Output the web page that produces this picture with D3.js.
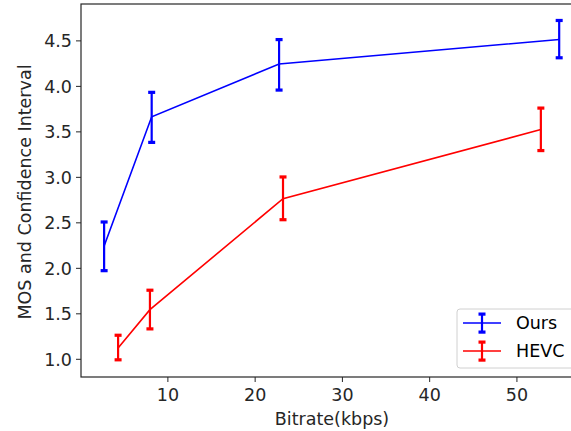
<!DOCTYPE html>
<html><head><meta charset="utf-8">
<script src="https://cdn.jsdelivr.net/npm/d3@7"></script>
<style>body{margin:0;background:#fff}svg{display:block}text{font-family:"DejaVu Sans",sans-serif}</style>
</head><body>
<svg id="c" width="571" height="431"></svg>
<script>
const oursX = [2.75, 8.2, 22.8, 54.9];
const oursMean = [2.24, 3.66, 4.24, 4.51];
const oursLow = [1.97, 3.38, 3.955, 4.31];
const oursHigh = [2.505, 3.93, 4.51, 4.72];
const hevcX = [4.35, 8.0, 23.25, 52.8];
const hevcMean = [1.12, 1.54, 2.76, 3.52];
const hevcLow = [0.99, 1.33, 2.53, 3.29];
const hevcHigh = [1.26, 1.755, 3.0, 3.757];
const xTicks = [10, 20, 30, 40, 50];
const yTicks = [1.0, 1.5, 2.0, 2.5, 3.0, 3.5, 4.0, 4.5];
const seriesNames = ["Ours", "HEVC"];
const seriesColors = ["#0000ff", "#ff0000"];

const svg = d3.select("#c");
const L = 81, R = 581, T = 4, B = 377;
const x = d3.scaleLinear().domain([0.1, 57.4]).range([L, R]);
const y = d3.scaleLinear().domain([0.8, 4.9]).range([B, T]);

const axisColor = "#262626";
const fs = "17.5px";

// frame
svg.append("rect").attr("x", L).attr("y", T).attr("width", R - L).attr("height", B - T)
  .attr("fill", "none").attr("stroke", axisColor).attr("stroke-width", 1.2);

// x axis
const gx = svg.append("g").attr("transform", `translate(0,${B})`)
  .call(d3.axisBottom(x).tickValues(xTicks).tickSize(5).tickFormat(d3.format("d")));
gx.select(".domain").remove();
gx.selectAll("line").attr("stroke", axisColor).attr("stroke-width", 1);
gx.selectAll("text").attr("fill", axisColor).style("font-size", fs).attr("y", 24).attr("dy", "0");

// y axis
const gy = svg.append("g").attr("transform", `translate(${L},0)`)
  .call(d3.axisLeft(y).tickValues(yTicks).tickSize(5).tickPadding(4).tickFormat(d3.format(".1f")));
gy.select(".domain").remove();
gy.selectAll("line").attr("stroke", axisColor).attr("stroke-width", 1);
gy.selectAll("text").attr("fill", axisColor).style("font-size", fs).attr("dy", "0.36em");

// labels
svg.append("text").attr("x", 332).attr("y", 425).attr("text-anchor", "middle")
  .attr("fill", axisColor).style("font-size", fs).text("Bitrate(kbps)");
svg.append("text").attr("transform", "translate(31,192) rotate(-90)").attr("text-anchor", "middle")
  .attr("fill", axisColor).style("font-size", fs).text("MOS and Confidence Interval");

const series = [
  {xs: oursX, m: oursMean, lo: oursLow, hi: oursHigh, c: seriesColors[0]},
  {xs: hevcX, m: hevcMean, lo: hevcLow, hi: hevcHigh, c: seriesColors[1]}
];
const line = d3.line().x(d => x(d[0])).y(d => y(d[1]));
const plot = svg.append("g");
series.forEach(s => {
  const pts = s.xs.map((v, i) => [v, s.m[i]]);
  plot.append("path").attr("d", line(pts)).attr("fill", "none").attr("stroke", s.c).attr("stroke-width", 1.6);
  s.xs.forEach((v, i) => {
    const cx = x(v);
    plot.append("line").attr("x1", cx).attr("x2", cx).attr("y1", y(s.lo[i])).attr("y2", y(s.hi[i]))
      .attr("stroke", s.c).attr("stroke-width", 2.2);
    [s.lo[i], s.hi[i]].forEach(e => {
      plot.append("rect").attr("x", cx - 3.5).attr("y", y(e) - 1.5).attr("width", 7).attr("height", 3.2).attr("fill", s.c);
    });
  });
});

// legend
const lg = svg.append("g");
lg.append("rect").attr("x", 457).attr("y", 309).attr("width", 118).attr("height", 59).attr("rx", 3)
  .attr("fill", "#fff").attr("fill-opacity", 0.8).attr("stroke", "#d0d0d0").attr("stroke-width", 1);
seriesNames.forEach((n, i) => {
  const cy = 323 + i * 28;
  const c = seriesColors[i];
  lg.append("line").attr("x1", 463).attr("x2", 501).attr("y1", cy).attr("y2", cy).attr("stroke", c).attr("stroke-width", 1.6);
  lg.append("line").attr("x1", 482).attr("x2", 482).attr("y1", cy - 9).attr("y2", cy + 9).attr("stroke", c).attr("stroke-width", 2.2);
  [cy - 9, cy + 9].forEach(e => lg.append("rect").attr("x", 478.5).attr("y", e - 1.5).attr("width", 7).attr("height", 3.2).attr("fill", c));
  lg.append("text").attr("x", 516).attr("y", cy).attr("dy", "0.36em").attr("fill", "#000").style("font-size", fs).text(n);
});
</script>
</body></html>
